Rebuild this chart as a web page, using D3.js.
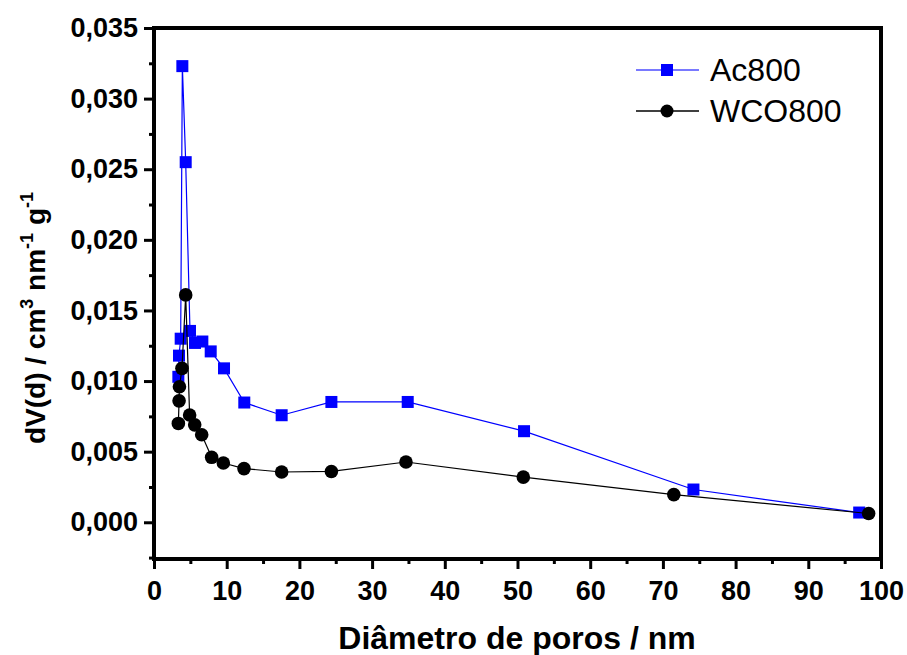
<!DOCTYPE html>
<html>
<head>
<meta charset="utf-8">
<script src="https://cdn.jsdelivr.net/npm/d3@7"></script>
<style>
  html, body { margin: 0; padding: 0; background: #fff; }
  svg { display: block; font-family: Arial, "Liberation Sans", sans-serif; }
</style>
</head>
<body>
<svg id="chart" width="907" height="655"></svg>
<script>
// Pore size distribution (BJH) for the two carbons
const poreAc = [3.35, 3.44, 3.67, 3.9, 4.36, 4.95, 5.64, 6.65, 7.8, 9.63, 12.42, 17.56, 24.4, 34.9, 50.9, 74.2, 97.0];
const dvAc   = [0.0103, 0.0118, 0.0130, 0.0323, 0.0255, 0.01355, 0.0127, 0.0128, 0.0121, 0.0109, 0.00848, 0.00758, 0.00852, 0.00852, 0.00645, 0.00232, 0.00069];

const poreWCO = [3.35, 3.45, 3.5, 3.85, 4.36, 4.9, 5.6, 6.56, 7.93, 9.54, 12.38, 17.56, 24.4, 34.66, 50.8, 71.5, 98.3];
const dvWCO   = [0.0070, 0.0086, 0.0096, 0.0109, 0.0161, 0.0076, 0.0069, 0.0062, 0.0046, 0.0042, 0.0038, 0.00356, 0.0036, 0.00427, 0.0032, 0.00196, 0.00062];

const xTicks = [0, 10, 20, 30, 40, 50, 60, 70, 80, 90, 100];
const yTicks = [0, 0.005, 0.010, 0.015, 0.020, 0.025, 0.030, 0.035];
const seriesNames = ["Ac800", "WCO800"];

const svg = d3.select("#chart");
const plotLeft = 154, plotRight = 881, plotTop = 28, plotBottom = 559;

const x = d3.scaleLinear().domain([0, 100]).range([plotLeft, plotRight]);
const y = d3.scaleLinear().domain([-0.0026, 0.035]).range([plotBottom, plotTop]);

const fmtY = d => d3.format(".3f")(d).replace(".", ",");

// minor ticks halfway between the majors
const xMinor = d3.range(5, 100, 10);
const yMinor = d3.range(-0.0025, 0.035, 0.005).filter(v => v >= y.domain()[0]);

// bottom axis
const gx = svg.append("g").attr("transform", `translate(0,${plotBottom})`);
gx.call(d3.axisBottom(x).tickValues(xTicks).tickSize(10).tickPadding(12).tickFormat(d3.format("d")));
gx.append("g").call(d3.axisBottom(x).tickValues(xMinor).tickSize(5).tickFormat(""));

// left axis
const gy = svg.append("g").attr("transform", `translate(${plotLeft},0)`);
gy.call(d3.axisLeft(y).tickValues(yTicks).tickSize(10).tickPadding(6).tickFormat(fmtY));
gy.append("g").call(d3.axisLeft(y).tickValues(yMinor).tickSize(5).tickFormat(""));

svg.selectAll(".domain").remove();
svg.selectAll(".tick line").attr("stroke", "#000").attr("stroke-width", 3);
svg.selectAll(".tick text")
  .attr("fill", "#000")
  .style("font-size", "27px")
  .style("font-weight", "bold");

// frame
svg.append("rect")
  .attr("x", plotLeft).attr("y", plotTop)
  .attr("width", plotRight - plotLeft).attr("height", plotBottom - plotTop)
  .attr("fill", "none").attr("stroke", "#000").attr("stroke-width", 4);

const plot = svg.append("g");

function drawSeries(px, py, color, shape) {
  const pts = px.map((v, i) => [x(v), y(py[i])]);
  plot.append("path")
    .attr("d", d3.line()(pts))
    .attr("fill", "none").attr("stroke", color).attr("stroke-width", 1.2);
  if (shape === "square") {
    plot.selectAll(null).data(pts).join("rect")
      .attr("x", d => d[0] - 6).attr("y", d => d[1] - 6)
      .attr("width", 12).attr("height", 12).attr("fill", color);
  } else {
    plot.selectAll(null).data(pts).join("circle")
      .attr("cx", d => d[0]).attr("cy", d => d[1]).attr("r", 6.8).attr("fill", color);
  }
}

drawSeries(poreAc, dvAc, "#0000ff", "square");
drawSeries(poreWCO, dvWCO, "#000000", "circle");

// legend
const legend = svg.append("g");
const legRows = [
  { name: seriesNames[0], color: "#0000ff", shape: "square", y: 70, base: 81 },
  { name: seriesNames[1], color: "#000000", shape: "circle", y: 111, base: 122 }
];
legRows.forEach(r => {
  legend.append("line").attr("x1", 636).attr("x2", 699).attr("y1", r.y).attr("y2", r.y)
    .attr("stroke", r.color).attr("stroke-width", 1.5).attr("stroke-opacity", r.shape === "square" ? 0.7 : 1);
  if (r.shape === "square") {
    legend.append("rect").attr("x", 661).attr("y", r.y - 6).attr("width", 12).attr("height", 12).attr("fill", r.color);
  } else {
    legend.append("circle").attr("cx", 667).attr("cy", r.y).attr("r", 6.5).attr("fill", r.color);
  }
  legend.append("text").attr("x", 710).attr("y", r.base)
    .style("font-size", "32px").attr("fill", "#000").text(r.name);
});

// axis titles
svg.append("text")
  .attr("x", 517).attr("y", 649)
  .attr("text-anchor", "middle")
  .style("font-size", "32px").style("font-weight", "bold")
  .text("Diâmetro de poros / nm");

const yt = svg.append("text")
  .attr("transform", "translate(45,318) rotate(-90)")
  .attr("text-anchor", "middle")
  .style("font-size", "28px").style("font-weight", "bold");
yt.append("tspan").text("dV(d) / cm");
yt.append("tspan").attr("dy", -12).style("font-size", "18px").text("3");
yt.append("tspan").attr("dy", 12).text(" nm");
yt.append("tspan").attr("dy", -12).style("font-size", "18px").text("-1");
yt.append("tspan").attr("dy", 12).text(" g");
yt.append("tspan").attr("dy", -12).style("font-size", "18px").text("-1");
</script>
</body>
</html>
